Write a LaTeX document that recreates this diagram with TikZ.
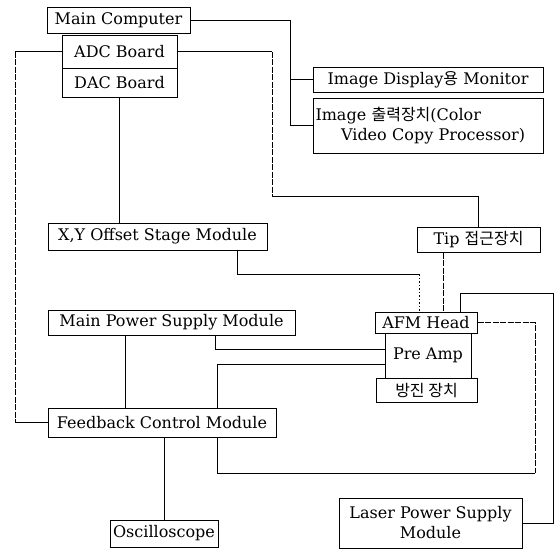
\documentclass[tikz,border=0pt]{standalone}
\usepackage{fontspec}
\setmainfont{DejaVu Serif}
\newfontfamily\kr{Noto Sans CJK KR}
\begin{document}
\begin{tikzpicture}[x=1pt,y=-1pt]
\tikzset{
 bx/.style={draw, line width=1pt, inner sep=0pt, font=\fontsize{16}{20}\selectfont},
 ln/.style={line width=1pt},
 brk/.style={line width=1pt, dash pattern=on 6pt off 1.5pt},
 dotl/.style={line width=1pt, dash pattern=on 1.5pt off 2pt},
}
\useasboundingbox (0,0) rectangle (556,550);
% boxes
\node[bx, minimum width=143, minimum height=26] (MC) at (118.5,20) {Main Computer};
\node[bx, minimum width=115, minimum height=33] (ADC) at (119.5,51.5) {ADC Board};
\node[bx, minimum width=115, minimum height=29] (DAC) at (119.5,82.5) {DAC Board};
\node[bx, minimum width=230, minimum height=25] (ImgDisp) at (428,79.5) {Image Display{\kr 용} Monitor};
\node[bx, minimum width=230, minimum height=55, text width=225pt, align=left] (ImgOut) at (428,125.5) {Image {\kr 출력장치}(Color\\\hspace*{1.6em}Video Copy Processor)};
\node[bx, minimum width=219, minimum height=27] (XY) at (157.5,236.5) {X,Y Offset Stage Module};
\node[bx, minimum width=123, minimum height=25] (Tip) at (478.5,239.5) {Tip {\kr 접근장치}};
\node[bx, minimum width=247, minimum height=25] (MPS) at (171.5,322.5) {Main Power Supply Module};
\node[bx, minimum width=86, minimum height=45] (PreAmp) at (428,355.5) {Pre Amp};
\node[bx, minimum width=102, minimum height=21] (AFM) at (426,322.5) {AFM Head};
\node[bx, minimum width=101, minimum height=24] (Bang) at (426.5,390) {\kr 방진 장치};
\node[bx, minimum width=228, minimum height=29] (FB) at (162,422.5) {Feedback Control Module};
\node[bx, minimum width=108, minimum height=27] (Osc) at (164,533.5) {Oscilloscope};
\node[bx, minimum width=183, minimum height=50, align=center] (Laser) at (430.5,523) {Laser Power Supply\\Module};
% connectors
\draw[ln] (MC.east) -| (290,0 |- ImgOut.west) -- (ImgOut.west);
\draw[ln] (290,0 |- ImgDisp.west) -- (ImgDisp.west);
\draw[ln] (ADC.west) -- (15,0 |- ADC.west);
\draw[brk] (15,0 |- ADC.west) -- (15,0 |- FB.west);
\draw[ln] (15,0 |- FB.west) -- (FB.west);
\draw[ln] (ADC.east) -- (272,0 |- ADC.east);
\draw[brk] (272,0 |- ADC.east) -- (272,196);
\draw[ln] (272,196) -| (Tip.north);
\draw[ln] (DAC.south) -- (DAC.south |- XY.north);
\draw[ln] ([xshift=-30pt]XY.south east) |- (419,274);
\draw[dotl] (419,274) -- (419,0 |- AFM.north);
\draw[brk] (443,0 |- Tip.south) -- (443,0 |- AFM.north);
\draw[ln] (460,0 |- AFM.north) |- (553,293) |- (Laser.east);
\draw[brk] (AFM.east) -| (535,473);
\draw[ln] (535,473) -| (217,0 |- FB.south);
\draw[ln] (215,0 |- MPS.south) |- ([yshift=6.5pt]PreAmp.west);
\draw[ln] (125,0 |- MPS.south) -- (125,0 |- FB.north);
\draw[ln] (217,0 |- FB.north) |- ([yshift=-8.5pt]PreAmp.west);
\draw[ln] (Osc.north |- FB.south) -- (Osc.north);
\end{tikzpicture}
\end{document}
